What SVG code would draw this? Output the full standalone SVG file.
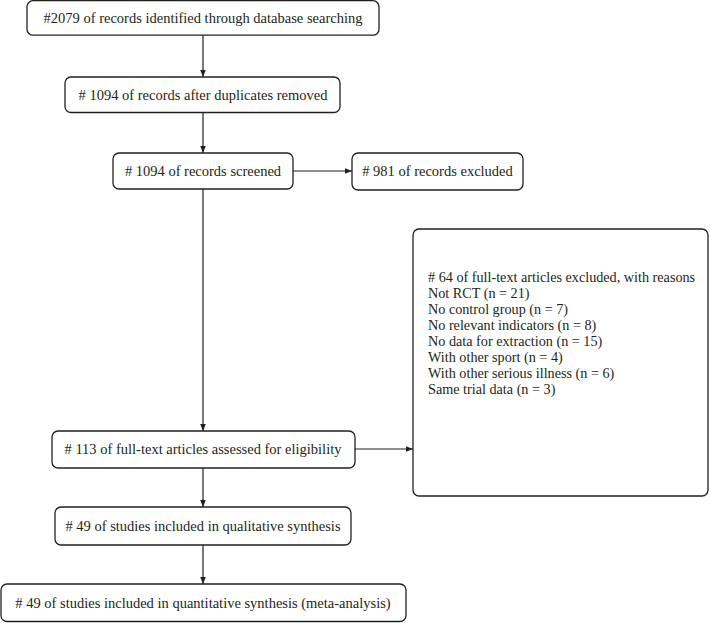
<svg xmlns="http://www.w3.org/2000/svg" width="710" height="623" viewBox="0 0 710 623">
<defs>
<style>
.box{fill:#fff;stroke:#231f20;stroke-width:1.3}
.t{font-family:"Liberation Serif","Times New Roman",serif;font-size:14.5px;fill:#231f20}
.s{font-size:14.2px}
.c{text-anchor:middle}
.ln{stroke:#231f20;stroke-width:1.2;fill:none}
</style>
<marker id="ah" viewBox="0 0 10 10" refX="10" refY="5" markerWidth="7" markerHeight="7" orient="auto" markerUnits="userSpaceOnUse">
<path d="M0,1 L10,5 L0,9 z" fill="#231f20"/>
</marker>
</defs>
<rect width="710" height="623" fill="#fff"/>
<g id="connectors">
<line class="ln" x1="203" y1="35" x2="203" y2="77" marker-end="url(#ah)"/>
<line class="ln" x1="203" y1="112" x2="203" y2="153" marker-end="url(#ah)"/>
<line class="ln" x1="293" y1="171" x2="352" y2="171" marker-end="url(#ah)"/>
<line class="ln" x1="203" y1="189" x2="203" y2="431" marker-end="url(#ah)"/>
<line class="ln" x1="355" y1="449" x2="413" y2="449" marker-end="url(#ah)"/>
<line class="ln" x1="203" y1="468" x2="203" y2="507" marker-end="url(#ah)"/>
<line class="ln" x1="203" y1="545" x2="203" y2="584" marker-end="url(#ah)"/>
</g>
<g id="n1"><rect class="box" x="27" y="0.7" width="352" height="34.5" rx="6"/><text class="t c" x="203" y="22.5">#2079 of records identified through database searching</text></g>
<g id="n2"><rect class="box" x="65" y="77" width="275" height="35.5" rx="6"/><text class="t c" x="203" y="99.5"># 1094 of records after duplicates removed</text></g>
<g id="n3"><rect class="box" x="113" y="153" width="180" height="36" rx="6"/><text class="t c" x="203" y="176"># 1094 of records screened</text></g>
<g id="n4"><rect class="box" x="352" y="153" width="171" height="37" rx="6"/><text class="t c" x="437.5" y="176"># 981 of records excluded</text></g>
<g id="n5"><rect class="box" x="413" y="229" width="295" height="267" rx="6"/>
<text class="t s" x="428" y="282"># 64 of full-text articles excluded, with reasons</text>
<text class="t s" x="428" y="298">Not RCT (n = 21)</text>
<text class="t s" x="428" y="314">No control group (n = 7)</text>
<text class="t s" x="428" y="330">No relevant indicators (n = 8)</text>
<text class="t s" x="428" y="346">No data for extraction (n = 15)</text>
<text class="t s" x="428" y="362">With other sport (n = 4)</text>
<text class="t s" x="428" y="378">With other serious illness (n = 6)</text>
<text class="t s" x="428" y="394">Same trial data (n = 3)</text>
</g>
<g id="n6"><rect class="box" x="52" y="431" width="303" height="37" rx="6"/><text class="t c" x="203" y="454"># 113 of full-text articles assessed for eligibility</text></g>
<g id="n7"><rect class="box" x="55" y="507" width="296" height="38" rx="6"/><text class="t c" x="203" y="531"># 49 of studies included in qualitative synthesis</text></g>
<g id="n8"><rect class="box" x="1" y="584" width="405" height="37.5" rx="6"/><text class="t c" x="203" y="608"># 49 of studies included in quantitative synthesis (meta-analysis)</text></g>
</svg>
